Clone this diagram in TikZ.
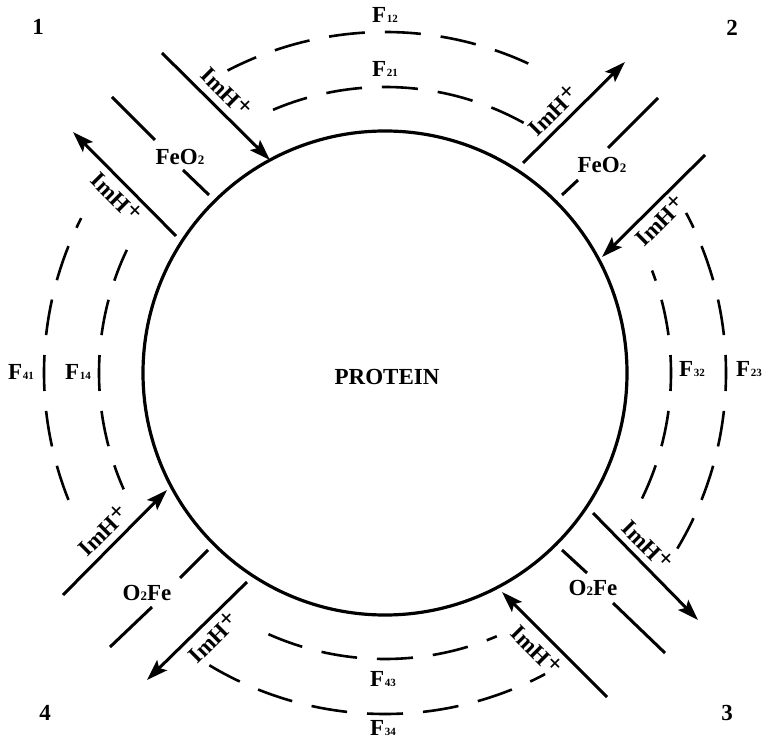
\documentclass[tikz,border=0pt]{standalone}
\usepackage{fontspec}
\setmainfont{Liberation Serif}
\usetikzlibrary{arrows.meta}
\newcommand\Fl[1]{F\kern0.8pt{\fontsize{11}{11}\selectfont #1}}
\newcommand\imh{ImH\kern0.5pt\raisebox{4pt}{\fontsize{25}{25}\selectfont +}}
\newcommand\feo{FeO{\fontsize{13}{13}\selectfont 2}}
\newcommand\ofe{O{\fontsize{13}{13}\selectfont 2}Fe}
\newcommand\darc[4]{%
  \draw[dl] (C) ++(#2:#1pt) arc[start angle=#2,end angle=#3,radius=#1pt];
  \draw[dl] (C) ++(#2:#1pt) arc[start angle=#2,end angle=#4,radius=#1pt];}
\tikzset{
  lbl/.style={font=\fontsize{23}{23}\selectfont\bfseries, inner sep=0pt},
  dl/.style={line width=2.6pt, dash pattern=on 36pt off 20pt, dash phase=18pt},
  ln/.style={line width=3pt},
  arr/.style={line width=3pt, -{Stealth[length=21pt,width=14pt,inset=4pt]}},
}
\begin{document}
\begin{tikzpicture}[x=1pt,y=1pt]
\useasboundingbox (0,0) rectangle (765,742);
\coordinate (C) at (385,369);
\node[circle,draw,line width=3.2pt,minimum size=484pt,inner sep=0pt] (protein) at (C) {};
\node[lbl] (ptext) at (387,365) {PROTEIN};

% dashed arcs
\darc{341}{87}{117.5}{63}
\darc{286}{87}{115}{61}
\darc{341}{180}{153}{204}
\darc{286}{180}{154.5}{204}
\darc{286}{0}{21}{-29}
\darc{341}{0}{28}{-31}
\darc{286}{272}{242}{293}
\darc{341}{270}{239}{298}

% F labels
\node[lbl] (f12) at (385,727) {\Fl{12}};
\node[lbl] (f21) at (385,673) {\Fl{21}};
\node[lbl] (f43) at (383,63) {\Fl{43}};
\node[lbl] (f34) at (383,14) {\Fl{34}};
\node[lbl] (f41) at (21,370) {\Fl{41}};
\node[lbl] (f14) at (78,370) {\Fl{14}};
\node[lbl] (f32) at (692,373) {\Fl{32}};
\node[lbl] (f23) at (749,373) {\Fl{23}};

% corner numbers
\node[lbl] (n1) at (38,715) {1};
\node[lbl] (n2) at (732,714) {2};
\node[lbl] (n3) at (727,29) {3};
\node[lbl] (n4) at (45,29) {4};

% corner 1
\coordinate (a1s) at (162,689); \coordinate (a1e) at (270,582);
\coordinate (b1s) at (176,506); \coordinate (b1e) at (73,610);
\coordinate (l1a) at (112,645); \coordinate (l1b) at (155,602);
\coordinate (l1c) at (183,572); \coordinate (l1d) at (209,547);
\draw[arr] (a1s) -- (a1e);
\draw[arr] (b1s) -- (b1e);
\draw[ln] (l1a) -- (l1b);
\draw[ln] (l1c) -- (l1d);
\node[lbl] (fe1) at (180,585) {\feo};
\node[lbl,rotate=-45] (i1a) at (227,650) {\imh};
\node[lbl,rotate=-45] (i1b) at (117,545) {\imh};

% corner 2
\coordinate (a2s) at (523,579); \coordinate (a2e) at (625,680);
\coordinate (b2s) at (705,587); \coordinate (b2e) at (602,485);
\coordinate (l2a) at (658,644); \coordinate (l2b) at (608,594);
\coordinate (l2c) at (578,562); \coordinate (l2d) at (562,547);
\draw[arr] (a2s) -- (a2e);
\draw[arr] (b2s) -- (b2e);
\draw[ln] (l2a) -- (l2b);
\draw[ln] (l2c) -- (l2d);
\node[lbl] (fe2) at (602,577) {\feo};
\node[lbl,rotate=45] (i2a) at (553,632) {\imh};
\node[lbl,rotate=45] (i2b) at (660,522) {\imh};

% corner 3
\coordinate (a3s) at (593,229); \coordinate (a3e) at (698,122);
\coordinate (b3s) at (607,45); \coordinate (b3e) at (502,150);
\coordinate (l3a) at (562,192); \coordinate (l3b) at (587,169);
\coordinate (l3c) at (613,139); \coordinate (l3d) at (665,89);
\draw[arr] (a3s) -- (a3e);
\draw[arr] (b3s) -- (b3e);
\draw[ln] (l3a) -- (l3b);
\draw[ln] (l3c) -- (l3d);
\node[lbl] (fe3) at (593,154) {\ofe};
\node[lbl,rotate=-45] (i3a) at (648,197) {\imh};
\node[lbl,rotate=-45] (i3b) at (537,92) {\imh};

% corner 4
\coordinate (a4s) at (63,147); \coordinate (a4e) at (167,252);
\coordinate (b4s) at (247,160); \coordinate (b4e) at (147,62);
\coordinate (l4a) at (208,192); \coordinate (l4b) at (180,164);
\coordinate (l4c) at (152,135); \coordinate (l4d) at (110,95);
\draw[arr] (a4s) -- (a4e);
\draw[arr] (b4s) -- (b4e);
\draw[ln] (l4a) -- (l4b);
\draw[ln] (l4c) -- (l4d);
\node[lbl] (fe4) at (147,149) {\ofe};
\node[lbl,rotate=45] (i4a) at (103,212) {\imh};
\node[lbl,rotate=45] (i4b) at (213,105) {\imh};
\end{tikzpicture}
\end{document}
